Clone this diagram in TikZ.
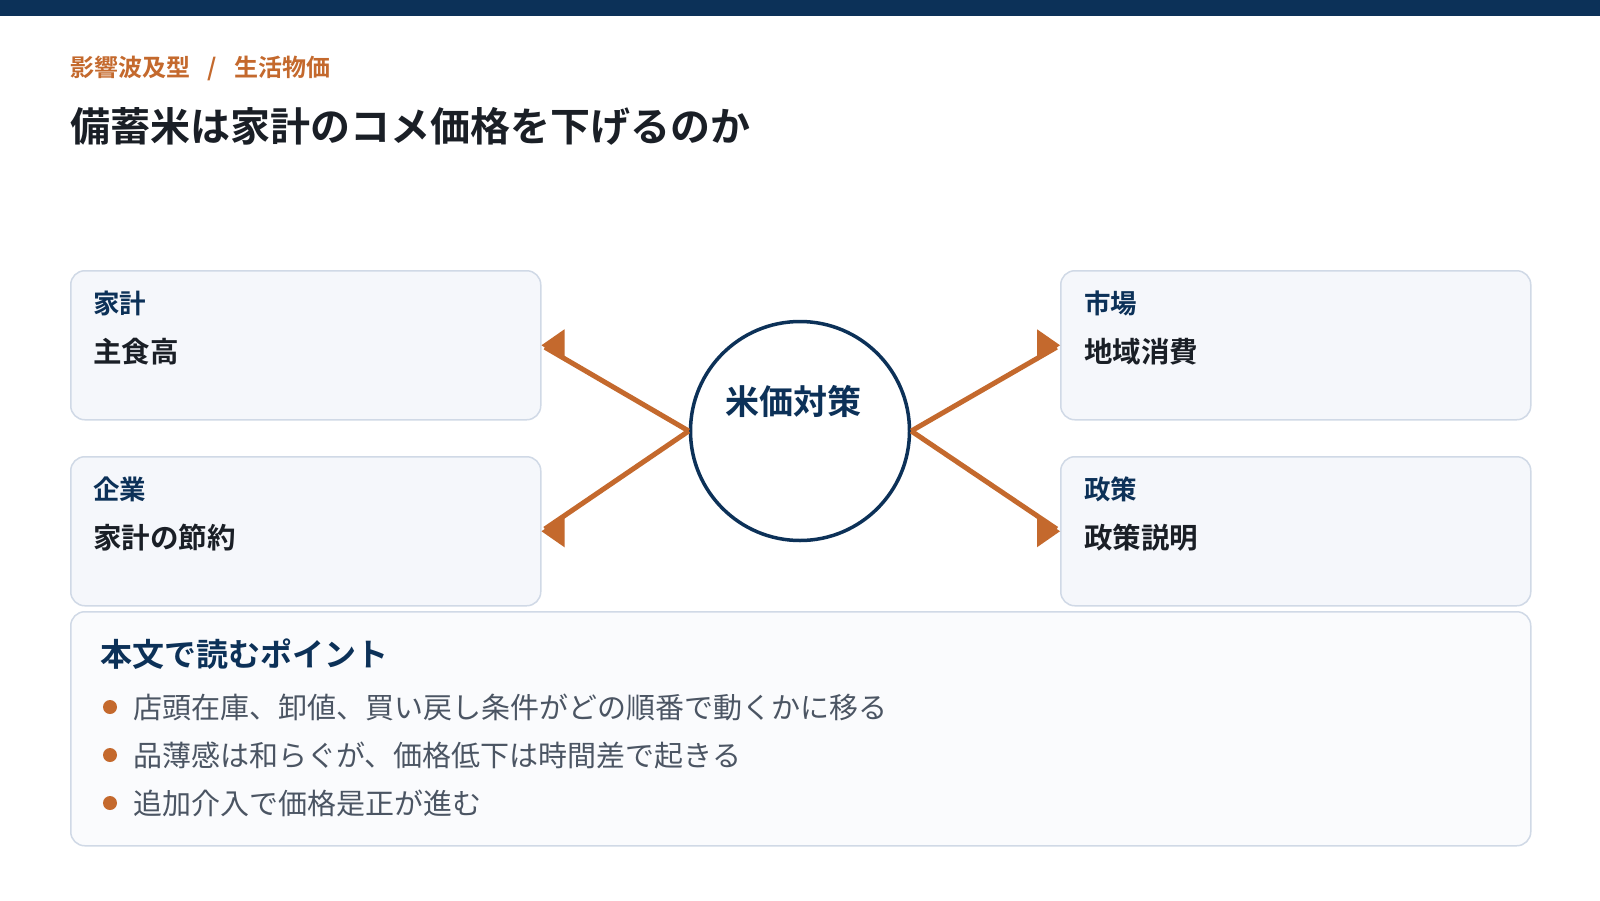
\documentclass[tikz,border=0pt]{standalone}
\usepackage{fontspec}
\setmainfont{Noto Sans CJK JP}[BoldFont={Noto Sans CJK JP Bold}]
\definecolor{navy}{HTML}{0C3158}
\definecolor{accent}{HTML}{C4692D}
\definecolor{boxfill}{HTML}{F5F7FB}
\definecolor{boxline}{HTML}{D0D9E6}
\definecolor{notefill}{HTML}{FAFBFD}
\definecolor{ink}{HTML}{1A1F26}
\definecolor{muted}{HTML}{4B5563}
\tikzset{
  card/.style={draw=boxline, fill=boxfill, line width=1.5pt, rounded corners=14pt,
    minimum width=470pt, minimum height=149pt, anchor=north west, inner sep=0pt},
  notecard/.style={draw=boxline, fill=notefill, line width=1.5pt, rounded corners=14pt,
    minimum width=1460pt, minimum height=234pt, anchor=north west, inner sep=0pt},
  hub/.style={circle, draw=navy, fill=white, line width=3.5pt, minimum size=219pt, inner sep=0pt},
  conn/.style={draw=accent, line width=5pt, shorten >=4pt},
  tipfill/.style={fill=accent},
  lbl/.style={anchor=base west, inner sep=0pt, font=\fontsize{26.5}{30}\selectfont\bfseries, text=navy},
  val/.style={anchor=base west, inner sep=0pt, font=\fontsize{28.5}{32}\selectfont\bfseries, text=ink},
  bullettext/.style={anchor=base west, inner sep=0pt, font=\fontsize{29}{33}\selectfont, text=muted},
  dot/.style={circle, fill=accent, minimum size=14pt, inner sep=0pt},
}
\begin{document}
\begin{tikzpicture}[x=1pt,y=-1pt]
\useasboundingbox (0,0) rectangle (1600,900);
\fill[white] (0,0) rectangle (1600,900);
\fill[navy] (0,0) rectangle (1600,16);

% header
\node[anchor=base west, inner sep=0pt, font=\fontsize{24}{28}\selectfont\bfseries, text=accent] (kicker1) at (70,76) {影響波及型};
\node[anchor=base west, inner sep=0pt, font=\fontsize{24}{28}\selectfont\bfseries, text=accent] (kslash) at (207,76) {/};
\node[anchor=base west, inner sep=0pt, font=\fontsize{24}{28}\selectfont\bfseries, text=accent] (kicker2) at (234,76) {生活物価};
\node[anchor=base west, inner sep=0pt, font=\fontsize{40}{46}\selectfont\bfseries, text=ink] (title) at (70,141) {備蓄米は家計のコメ価格を下げるのか};

% cards
\node[card] (b1) at (70,270) {};
\node[card] (b2) at (70,456) {};
\node[card] (b3) at (1060,270) {};
\node[card] (b4) at (1060,456) {};

\node[lbl] (b1l) at (93,313) {家計};
\node[val] (b1v) at (93,362) {主食高};
\node[lbl] (b2l) at (93,499) {企業};
\node[val] (b2v) at (93,548) {家計の節約};
\node[lbl] (b3l) at (1084,313) {市場};
\node[val] (b3v) at (1084,362) {地域消費};
\node[lbl] (b4l) at (1084,499) {政策};
\node[val] (b4v) at (1084,548) {政策説明};

% hub
\node[hub] (c) at (800,431) {};
\node[anchor=base, inner sep=0pt, font=\fontsize{34}{40}\selectfont\bfseries, text=navy] (ctext) at (793,414) {米価対策};

% connectors
\draw[conn] (c.west) -- (b1.east);
\draw[conn] (c.west) -- (b2.east);
\draw[conn] (c.east) -- (b3.west);
\draw[conn] (c.east) -- (b4.west);
\fill[tipfill] (b1.east) -- ++(23,-16) -- ++(0,32) -- cycle;
\fill[tipfill] (b2.east) -- ++(23,-16) -- ++(0,32) -- cycle;
\fill[tipfill] (b3.west) -- ++(-23,-16) -- ++(0,32) -- cycle;
\fill[tipfill] (b4.west) -- ++(-23,-16) -- ++(0,32) -- cycle;

% notes
\node[notecard] (n) at (70,611) {};
\node[anchor=base west, inner sep=0pt, font=\fontsize{32}{36}\selectfont\bfseries, text=navy] (nh) at (100,666) {本文で読むポイント};
\node[dot] (d1) at (110,707) {};
\node[dot] (d2) at (110,755) {};
\node[dot] (d3) at (110,803) {};
\node[bullettext] (t1) at (133,718) {店頭在庫、卸値、買い戻し条件がどの順番で動くかに移る};
\node[bullettext] (t2) at (133,766) {品薄感は和らぐが、価格低下は時間差で起きる};
\node[bullettext] (t3) at (133,814) {追加介入で価格是正が進む};
\end{tikzpicture}
\end{document}
